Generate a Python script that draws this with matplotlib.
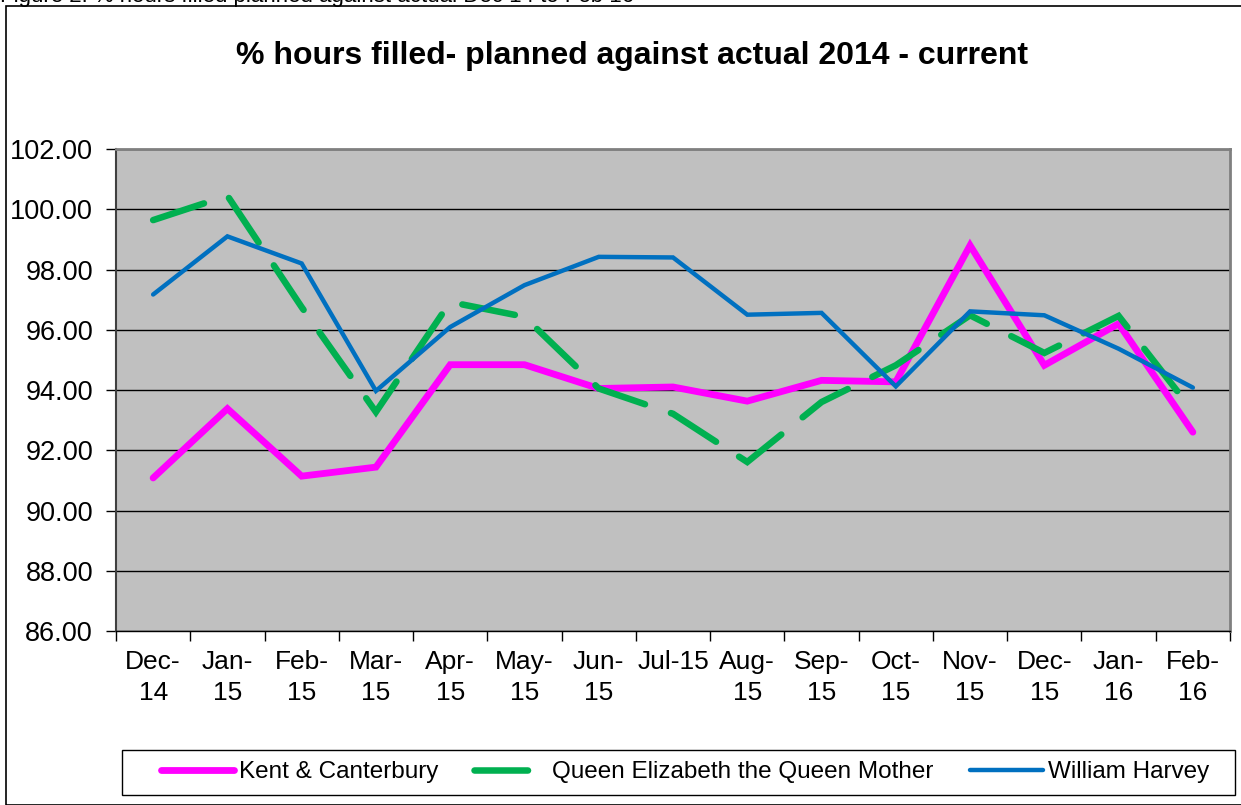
import matplotlib.pyplot as plt
from matplotlib.lines import Line2D
from matplotlib.patches import Rectangle

plt.rcParams['font.family'] = ['Liberation Sans', 'DejaVu Sans']

# Data
months = ['Dec-\n14', 'Jan-\n15', 'Feb-\n15', 'Mar-\n15', 'Apr-\n15', 'May-\n15', 'Jun-\n15',
          'Jul-15\n ', 'Aug-\n15', 'Sep-\n15', 'Oct-\n15', 'Nov-\n15', 'Dec-\n15', 'Jan-\n16', 'Feb-\n16']
kent = [91.08, 93.38, 91.14, 91.44, 94.84, 94.84, 94.05, 94.10, 93.63, 94.32, 94.27, 98.80, 94.82, 96.20, 92.60]
qeqm = [99.64, 100.45, 96.75, 93.27, 96.92, 96.43, 94.05, 93.21, 91.61, 93.60, 94.82, 96.48, 95.23, 96.46, 93.30]
harvey = [97.17, 99.10, 98.20, 93.97, 96.09, 97.48, 98.42, 98.40, 96.50, 96.56, 94.12, 96.61, 96.48, 95.37, 94.08]
series_names = ['Kent & Canterbury', 'Queen Elizabeth the Queen Mother', 'William Harvey']
yticks = [86, 88, 90, 92, 94, 96, 98, 100, 102]

W, H = 1241, 805
fig = plt.figure(figsize=(W / 100, H / 100), dpi=100)
fig.patch.set_facecolor('white')

# outer chart frame and the cut-off caption above it
fig.patches.append(Rectangle((6 / W, 0), 1.0, 1 - 6 / H, transform=fig.transFigure,
                             fill=False, edgecolor='black', linewidth=1.2))
fig.text(0.0, 1 - 2 / H, 'Figure 2: % hours filled planned against actual Dec 14 to Feb 16',
         fontsize=16, va='baseline', ha='left')

ax = fig.add_axes([116 / W, (H - 631) / H, (1230 - 116) / W, (631 - 149) / H])
ax.set_facecolor('#C0C0C0')

green_dash = (0, (8.2, 4.2))
x = list(range(len(months)))
ax.plot(x, kent, color='#FF00FF', linewidth=4.9, solid_capstyle='round', solid_joinstyle='miter', zorder=3)
ax.plot(x, qeqm, color='#00B050', linewidth=4.7, linestyle=green_dash,
        dash_capstyle='round', dash_joinstyle='miter', zorder=4)
ax.plot(x, harvey, color='#0070C0', linewidth=3.2, solid_capstyle='round', solid_joinstyle='miter', zorder=5)

ax.set_xlim(-0.5, len(months) - 0.5)
ax.set_ylim(86, 102)
ax.set_yticks(yticks)
ax.set_yticklabels(['%.2f' % v for v in yticks], fontsize=19.5)
ax.yaxis.grid(True, color='black', linewidth=1.0)
ax.set_axisbelow(True)

ax.set_xticks([i - 0.5 for i in range(len(months) + 1)])
ax.set_xticklabels([])
ax.set_xticks(x, minor=True)
ax.set_xticklabels(months, minor=True, fontsize=19, linespacing=1.35)
ax.tick_params(axis='x', which='minor', length=0, pad=14)
ax.tick_params(axis='x', which='major', length=7, width=1, direction='out')
ax.tick_params(axis='y', length=7, width=1, direction='out', pad=9.5)

for side in ['top', 'right']:
    ax.spines[side].set_color('#808080')
    ax.spines[side].set_linewidth(2)
ax.spines['left'].set_color('#404040')
ax.spines['left'].set_linewidth(1.5)
ax.spines['bottom'].set_color('black')
ax.spines['bottom'].set_linewidth(1)

fig.text(632 / W, (H - 56) / H, '% hours filled- planned against actual 2014 - current',
         fontsize=23, fontweight='bold', ha='center', va='center')

# legend box drawn by hand, entries centred in it
fig.patches.append(Rectangle((122 / W, (H - 795) / H), (1235 - 122) / W, 45 / H,
                             transform=fig.transFigure, fill=False, edgecolor='black', linewidth=1))
handles = [Line2D([], [], color='#FF00FF', linewidth=4.9, solid_capstyle='round'),
           Line2D([], [], color='#00B050', linewidth=4.7, linestyle=green_dash, dash_capstyle='round'),
           Line2D([], [], color='#0070C0', linewidth=3.2, solid_capstyle='round')]
fig.legend(handles, series_names, loc='center', bbox_to_anchor=(685 / W, (H - 772) / H),
           ncol=3, frameon=False, fontsize=17.5, handlelength=3.0, handletextpad=0.2,
           columnspacing=1.5)

fig.savefig('out.png', dpi=100)
